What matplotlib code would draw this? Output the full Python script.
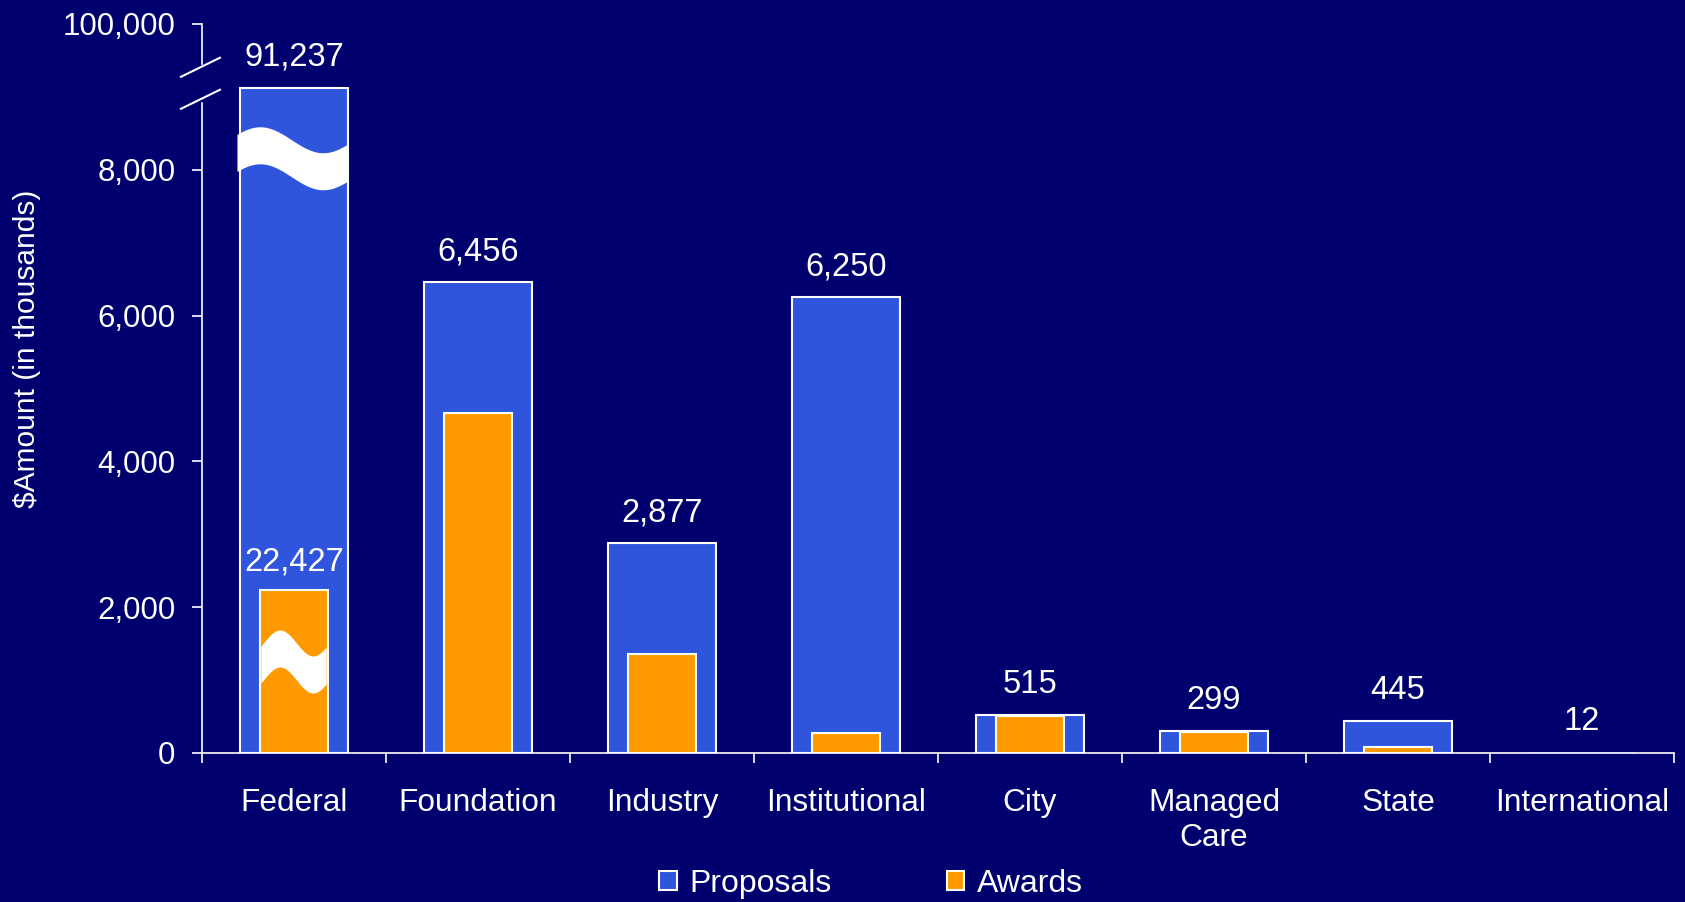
import matplotlib.pyplot as plt
from matplotlib.patches import Patch
from matplotlib.transforms import blended_transform_factory
import numpy as np

plt.rcParams['font.family'] = ['Liberation Sans', 'DejaVu Sans']

# data
categories = ['Federal', 'Foundation', 'Industry', 'Institutional', 'City',
              'Managed\nCare', 'State', 'International']
proposals = [91237, 6456, 2877, 6250, 515, 299, 445, 12]
awards = [22427, 4660, 1355, 275, 510, 292, 80, 0]
tick_vals = [0, 2000, 4000, 6000, 8000, 10000]
tick_labels = ['0', '2,000', '4,000', '6,000', '8,000', '100,000']

bg = '#00006E'
blue = '#2E55DB'
orange = '#FF9900'

# values above 10,000 are drawn on the broken part of the axis (scaled by 1/10)
prop = np.array(proposals, dtype=float)
awd = np.array(awards, dtype=float)
prop_shown = np.where(prop > 10000, prop / 10, prop)
awd_shown = np.where(awd > 10000, awd / 10, awd)

fig = plt.figure(figsize=(16.85, 9.02), dpi=100, facecolor=bg)
ax = fig.add_axes([202/1685, 1 - 753/902, 1472/1685, 729/902])
ax.set_facecolor(bg)

x = np.arange(len(categories))
# tiny bars (International) show no outline in the original
prop_lw = [1.5 if v > 50 else 0 for v in proposals]
awd_lw = [1.5 if v > 50 else 0 for v in awards]
ax.bar(x, prop_shown, width=0.59, color=blue, edgecolor='white', linewidth=prop_lw, zorder=2)
ax.bar(x, awd_shown, width=0.37, color=orange, edgecolor='white', linewidth=awd_lw, zorder=3)

# value labels
for i, v in enumerate(proposals):
    ax.annotate(f'{v:,}', (x[i], prop_shown[i]), xytext=(0, 22), textcoords='offset points',
                ha='center', va='center', color='white', fontsize=23.5, zorder=5)
ax.annotate(f'{awards[0]:,}', (x[0], awd_shown[0]), xytext=(0, 20), textcoords='offset points',
            ha='center', va='center', color='white', fontsize=23.5, zorder=5)

# break waves on the Federal bars
def wave(xa, xb, x0, period, center, amp=178, thick=508):
    xs = np.linspace(xa, xb, 200)
    top = center + amp * np.sin(2 * np.pi * (xs - x0) / period)
    ax.fill_between(xs, top - thick, top, color='white', lw=0, zorder=4)

wave(-0.31, 0.295, -0.356, 0.685, 8412)
wave(-0.18, 0.175, -0.166, 0.359, 1509)

ax.set_xlim(-0.5, 7.5)
ax.set_ylim(0, 10000)

ax.set_xticks(x)
ax.set_xticklabels(categories, fontsize=22.8, color='white', linespacing=1.25)
ax.tick_params(axis='x', which='major', length=0, pad=25)
ax.set_xticks(np.arange(-0.5, 8, 1), minor=True)
ax.tick_params(axis='x', which='minor', length=7, width=1.2, color='white', direction='out')

ax.set_yticks(tick_vals)
ax.set_yticklabels(tick_labels, fontsize=22.5, color='white')
ax.tick_params(axis='y', length=7, width=1.2, color='white', direction='out', pad=12)

for s in ['top', 'right', 'left']:
    ax.spines[s].set_visible(False)
ax.spines['bottom'].set_color('white')
ax.spines['bottom'].set_linewidth(1.2)

# broken y axis line
tr = blended_transform_factory(ax.transAxes, ax.transData)
ax.plot([0, 0], [0, 8919], color='white', lw=1.2, transform=tr, clip_on=False)
ax.plot([0, 0], [9455, 10000], color='white', lw=1.2, transform=tr, clip_on=False)
ax.plot([-0.0143, 0.0122], [9276, 9537], color='white', lw=1.5, transform=tr, clip_on=False)
ax.plot([-0.0143, 0.0122], [8837, 9098], color='white', lw=1.5, transform=tr, clip_on=False)

fig.text(27/1685, 1 - 349/902, '$Amount (in thousands)', rotation=90, ha='center', va='center',
         color='white', fontsize=21.5)

handles = [Patch(facecolor=blue, edgecolor='white', linewidth=1.5, label='Proposals'),
           Patch(facecolor=orange, edgecolor='white', linewidth=1.5, label='Awards')]
leg = fig.legend(handles=handles, loc='center', bbox_to_anchor=(871/1685, 1 - 884/902), ncol=2,
                 frameon=False, fontsize=23, handlelength=0.55, handleheight=0.55,
                 handletextpad=0.4, columnspacing=3.6, borderaxespad=0)
for t in leg.get_texts():
    t.set_color('white')

fig.savefig('out.png', dpi=100, facecolor=bg)
